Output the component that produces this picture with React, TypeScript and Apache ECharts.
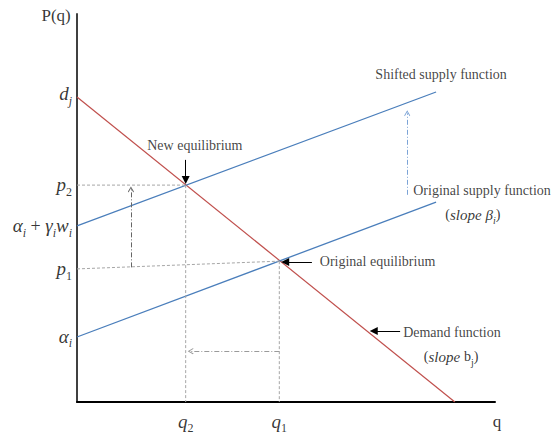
import React, { useEffect, useRef } from "react";
import * as echarts from "echarts";

// Curves (quantity q, price P)
const demandLine = [[0, 7.86], [9.04, 0]];
const supplyOriginal = [[0, 1.675], [8.59, 5.15]];
const supplyShifted = [[0, 4.54], [8.59, 7.99]];

// Grey dashed guide lines to the axes
const guideLines = [
  [[0, 5.59], [2.6, 5.59]],
  [[2.6, 5.59], [2.6, 0]],
  [[0, 3.43], [4.84, 3.63]],
  [[4.84, 3.63], [4.84, 0]],
];

// Dash-dot shift arrows
const priceShiftArrow = [[1.29, 3.47], [1.29, 5.48]];
const quantityShiftArrow = [[4.84, 1.31], [2.72, 1.31]];
const supplyShiftArrow = [[7.9, 5.34], [7.9, 7.44]];

// Solid pointer arrows of the annotations
const newEqArrow = [[2.6, 6.24], [2.6, 5.72]];
const origEqArrow = [[5.62, 3.61], [4.98, 3.61]];
const demandArrow = [[7.73, 1.83], [7.1, 1.83]];

// Axis tick labels (rich text)
const priceTicks = [
  { label: "{m|d}{s|j}", p: 7.95 },
  { label: "{m|p}{n|2}", p: 5.6 },
  { label: "{m|α}{s|i}{o| + }{m|γ}{s|i}{m|w}{s|i}", p: 4.54 },
  { label: "{m|p}{n|1}", p: 3.43 },
  { label: "{m|α}{s|i}", p: 1.7 },
];
const quantityTicks = [
  { label: "{m|q}{n|2}", q: 2.6 },
  { label: "{m|q}{n|1}", q: 4.84 },
];

// Annotations (centre positions)
const annotations = [
  { text: "{t|New equilibrium}", q: 2.82, p: 6.62 },
  { text: "{t|Original equilibrium}", q: 7.19, p: 3.61 },
  { text: "{t|Shifted supply function}", q: 8.71, p: 8.43 },
  { text: "{t|Original supply function}", q: 9.69, p: 5.46 },
  { text: "{u|(}{k|slope β}{r|i}{u|)}", q: 9.47, p: 4.82 },
  { text: "{t|Demand function}", q: 8.97, p: 1.8 },
  { text: "{u|(}{k|slope }{u|b}{v|j}{u|)}", q: 8.95, p: 1.16 },
  { text: "{a|P(q)}", q: -0.5, p: 9.95 },
  { text: "{a|q}", q: 10.05, p: -0.49 },
];

const SERIF = "Liberation Serif";
const rich: any = {
  m: { fontFamily: SERIF, fontStyle: "italic", fontSize: 19, lineHeight: 26, color: "#000" },
  o: { fontFamily: SERIF, fontSize: 18, lineHeight: 26, color: "#000" },
  s: { fontFamily: SERIF, fontStyle: "italic", fontSize: 12, lineHeight: 15, verticalAlign: "bottom", color: "#000" },
  n: { fontFamily: SERIF, fontSize: 12, lineHeight: 15, verticalAlign: "bottom", color: "#000" },
  k: { fontFamily: SERIF, fontStyle: "italic", fontSize: 15, lineHeight: 22, color: "#000" },
  u: { fontFamily: SERIF, fontSize: 14, lineHeight: 22, color: "#000" },
  r: { fontFamily: SERIF, fontStyle: "italic", fontSize: 10, lineHeight: 13, verticalAlign: "bottom", color: "#000" },
  v: { fontFamily: SERIF, fontSize: 10, lineHeight: 13, verticalAlign: "bottom", color: "#000" },
  t: { fontFamily: SERIF, fontSize: 14, lineHeight: 18, color: "#111" },
  a: { fontFamily: SERIF, fontSize: 17, lineHeight: 20, color: "#000" },
};

const chevron = "path://M5,0 L10,7 L9,8.2 L5,2.4 L1,8.2 L0,7 Z";

function lineSeries(data: number[][], color: string, width: number, type: any = "solid") {
  return {
    type: "line",
    data,
    showSymbol: false,
    symbol: "none",
    silent: true,
    lineStyle: { color, width, type },
    z: 3,
  };
}

function arrowSeries(coords: number[][], color: string, type: any, symbol: string, size: number[], width = 1) {
  return {
    type: "lines",
    coordinateSystem: "cartesian2d",
    silent: true,
    symbol: ["none", symbol],
    symbolSize: size,
    lineStyle: { color, width, type, opacity: 1 },
    itemStyle: { color },
    data: [{ coords }],
    z: 4,
  };
}

export default function App() {
  const ref = useRef<HTMLDivElement>(null);
  useEffect(() => {
    if (!ref.current) return;
    const chart = echarts.init(ref.current, undefined, { renderer: "svg" });
    const series: any[] = [
      lineSeries(demandLine, "#C0504D", 1.2),
      lineSeries(supplyOriginal, "#4A7EBB", 1.3),
      lineSeries(supplyShifted, "#4A7EBB", 1.3),
      ...guideLines.map((g) => lineSeries(g, "#A6A6A6", 1, [3, 2])),
      arrowSeries(priceShiftArrow, "#666666", [5, 2, 1, 2], chevron, [7, 6]),
      arrowSeries(quantityShiftArrow, "#9A9A9A", [5, 2, 1, 2], chevron, [7, 6]),
      arrowSeries(supplyShiftArrow, "#7BA3D6", [5, 2, 1, 2], chevron, [7, 6]),
      arrowSeries(newEqArrow, "#000", "solid", "triangle", [6, 8]),
      arrowSeries(origEqArrow, "#000", "solid", "triangle", [6, 8]),
      arrowSeries(demandArrow, "#000", "solid", "triangle", [6, 8]),
      {
        type: "scatter",
        silent: true,
        clip: false,
        symbolSize: 0,
        data: priceTicks.map((t) => ({ value: [0, t.p], label: { formatter: t.label } })),
        label: { show: true, position: "left", distance: 5, rich },
      },
      {
        type: "scatter",
        silent: true,
        clip: false,
        symbolSize: 0,
        data: quantityTicks.map((t) => ({ value: [t.q, 0], label: { formatter: t.label } })),
        label: { show: true, position: "bottom", distance: 6, rich },
      },
      {
        type: "scatter",
        silent: true,
        clip: false,
        symbolSize: 0,
        data: annotations.map((a) => ({ value: [a.q, a.p], label: { formatter: a.text } })),
        label: { show: true, position: "inside", align: "center", verticalAlign: "middle", rich },
      },
    ];
    chart.setOption({
      animation: false,
      backgroundColor: "#fff",
      grid: { left: 77, right: 60, top: 14, bottom: 33 },
      xAxis: {
        type: "value",
        min: 0,
        max: 10,
        axisLine: { show: true, onZero: false, lineStyle: { color: "#000", width: 2 } },
        axisTick: { show: false },
        axisLabel: { show: false },
        splitLine: { show: false },
      },
      yAxis: {
        type: "value",
        min: 0,
        max: 10,
        axisLine: { show: true, onZero: false, lineStyle: { color: "#404040", width: 2 } },
        axisTick: { show: false },
        axisLabel: { show: false },
        splitLine: { show: false },
      },
      series,
    });
    return () => chart.dispose();
  }, []);
  return (
    <div
      ref={ref}
      style={{ position: "fixed", left: 0, top: 0, width: 555, height: 435, background: "#fff" }}
    />
  );
}
